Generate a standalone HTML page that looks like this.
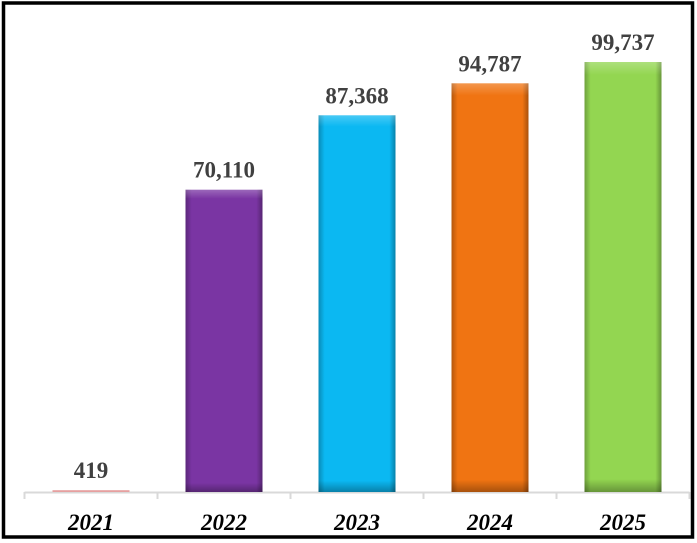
<!DOCTYPE html>
<html><head><meta charset="utf-8"><style>
html,body{margin:0;padding:0;background:#fff;}
svg{display:block;}
</style></head><body>
<svg id="chart" width="697" height="543" xmlns="http://www.w3.org/2000/svg">
<defs>
<linearGradient id="shade" x1="0" y1="0" x2="1" y2="0">
<stop offset="0" stop-color="#000" stop-opacity="0.25"/>
<stop offset="0.08" stop-color="#000" stop-opacity="0"/>
<stop offset="0.92" stop-color="#000" stop-opacity="0"/>
<stop offset="1" stop-color="#000" stop-opacity="0.3"/>
</linearGradient>
<linearGradient id="shadeV" x1="0" y1="0" x2="0" y2="1">
<stop offset="0" stop-color="#fff" stop-opacity="0.25"/>
<stop offset="0.03" stop-color="#fff" stop-opacity="0"/>
<stop offset="0.97" stop-color="#000" stop-opacity="0"/>
<stop offset="1" stop-color="#000" stop-opacity="0.3"/>
</linearGradient>
</defs>
<rect x="3.5" y="3" width="689" height="534" fill="none" stroke="#000" stroke-width="3.5"/>
<g id="plot"></g>
</svg>
<script>
const categories = ["2021","2022","2023","2024","2025"];
const values = [419,70110,87368,94787,99737];
const valueLabels = ["419","70,110","87,368","94,787","99,737"];
const colors = ["#e6a0a0","#7a35a3","#0bb8f2","#f07412","#93d651"];

const NS="http://www.w3.org/2000/svg";
const plotG=document.getElementById('plot');
const leftX=24.5, rightX=689.5, baseY=492, topY=62, maxV=99737;
const bw=(rightX-leftX)/categories.length;
const xC=i=>leftX+bw*(i+0.5);
const yS=v=>baseY-(v/maxV)*(baseY-topY);
function mk(t,a){const e=document.createElementNS(NS,t);for(const k in a)e.setAttribute(k,a[k]);plotG.appendChild(e);return e;}

const ax=mk('line',{x1:leftX,y1:baseY+0.5,x2:rightX,y2:baseY+0.5,stroke:'#d9d9d9','stroke-width':2});


for(let i=0;i<=categories.length;i++){
  const t=mk('line',{x1:leftX+bw*i,y1:baseY,x2:leftX+bw*i,y2:baseY+7,stroke:'#d9d9d9','stroke-width':2});
  
  
}
values.forEach((v,i)=>{
  const w=77, x=xC(i)-w/2, y=yS(v), h=baseY-y;
  const r=mk('rect',{x:x,y:y,width:w,height:Math.max(h,1),fill:colors[i]});
  
  
  if(h>5){
    const s=mk('rect',{x:x,y:y,width:w,height:h,fill:'url(#shade)'});
    
    
    const s2=mk('rect',{x:x,y:y,width:w,height:h,fill:'url(#shadeV)'});
    
    
  }
  const vl=mk('text',{x:xC(i),y:y-12,'text-anchor':'middle','font-family':'Liberation Serif, serif','font-weight':'bold','font-size':'23',fill:'#404040'});
  vl.textContent=valueLabels[i];
  
  
  const cl=mk('text',{x:xC(i),y:530,'text-anchor':'middle','font-family':'Liberation Serif, serif','font-weight':'bold','font-style':'italic','font-size':'23',fill:'#000'});
  cl.textContent=categories[i];
  
  
});
</script>
</body></html>
